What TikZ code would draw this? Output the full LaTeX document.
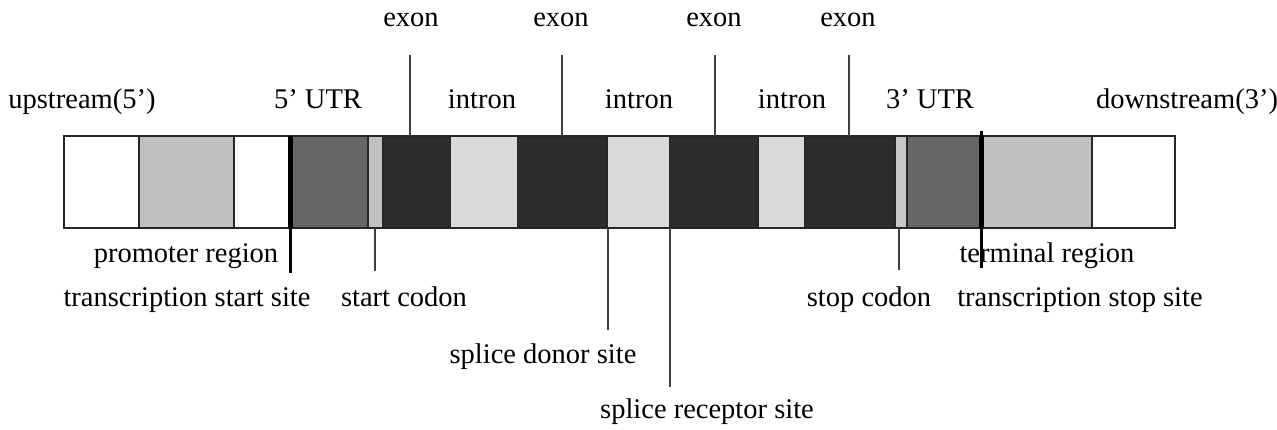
\documentclass[tikz,border=0pt]{standalone}
\usepackage{fontspec}
\setmainfont{Liberation Serif}
\definecolor{promo}{HTML}{C0C0C0}
\definecolor{utr}{HTML}{666666}
\definecolor{exonc}{HTML}{2D2D2D}
\definecolor{intronc}{HTML}{D9D9D9}
\definecolor{codon}{HTML}{C8C8C8}
\begin{document}
\begin{tikzpicture}[x=1pt,y=-1pt,
  seg/.style={draw=black!85, line width=1.6pt, inner sep=0pt, outer sep=0pt, minimum height=92pt, anchor=north west},
  lbl/.style={font=\fontsize{28.5}{30}\selectfont, inner sep=0pt, text height=0.7em, text depth=0.25em},
  conn/.style={draw=black!75, line width=2pt},
  site/.style={draw=black, line width=3pt}]
\useasboundingbox[fill=white] (0,0) rectangle (1277,429);
% segments
\node[seg, fill=white,   minimum width=75pt] (up1)  at (64,136) {};
\node[seg, fill=promo,   minimum width=95pt] (prom) at (139,136) {};
\node[seg, fill=white,   minimum width=56pt] (up2)  at (234,136) {};
\node[seg, fill=utr,     minimum width=78pt] (utr5) at (290,136) {};
\node[seg, fill=promo,   minimum width=15pt] (sc)   at (368,136) {};
\node[seg, fill=exonc,   minimum width=67pt] (ex1)  at (383,136) {};
\node[seg, fill=intronc, minimum width=68pt] (in1)  at (450,136) {};
\node[seg, fill=exonc,   minimum width=89pt] (ex2)  at (518,136) {};
\node[seg, fill=intronc, minimum width=63pt] (in2)  at (607,136) {};
\node[seg, fill=exonc,   minimum width=88pt] (ex3)  at (670,136) {};
\node[seg, fill=intronc, minimum width=47pt] (in3)  at (758,136) {};
\node[seg, fill=exonc,   minimum width=90pt] (ex4)  at (805,136) {};
\node[seg, fill=codon,   minimum width=12pt] (stc)  at (895,136) {};
\node[seg, fill=utr,     minimum width=74pt] (utr3) at (907,136) {};
\node[seg, fill=promo,   minimum width=111pt] (term) at (981,136) {};
\node[seg, fill=white,   minimum width=83pt] (down) at (1092,136) {};
% thick site markers
\node[inner sep=0pt, fill=black, minimum width=5pt, minimum height=92pt] (tssbar) at (290,182) {};
\node[inner sep=0pt, fill=black, minimum width=5pt, minimum height=92pt] (tesbar) at (981,182) {};
% labels
\node[lbl] (lex1) at (411,24) {exon};
\node[lbl] (lex2) at (561,24) {exon};
\node[lbl] (lex3) at (714,24) {exon};
\node[lbl] (lex4) at (848,24) {exon};
\node[lbl] (lup) at (82,106) {upstream(5’)};
\node[lbl] (lutr5) at (318,106) {5’ UTR};
\node[lbl] (lin1) at (482,106) {intron};
\node[lbl] (lin2) at (639,106) {intron};
\node[lbl] (lin3) at (792,106) {intron};
\node[lbl] (lutr3) at (930,106) {3’ UTR};
\node[lbl] (ldown) at (1187,106) {downstream(3’)};
\node[lbl] (lprom) at (186,260) {promoter region};
\node[lbl] (lterm) at (1047,260) {terminal region};
\node[lbl] (ltss) at (187,304) {transcription start site};
\node[lbl] (lsc) at (404,304) {start codon};
\node[lbl] (lstc) at (869,304) {stop codon};
\node[lbl] (ltes) at (1080,304) {transcription stop site};
\node[lbl] (ldon) at (543,361) {splice donor site};
\node[lbl] (lrec) at (707,416) {splice receptor site};
% connector end points
\coordinate (e1) at (410,55);
\coordinate (e2) at (562,55);
\coordinate (e3) at (715,55);
\coordinate (e4) at (849,55);
\coordinate (tssEnd) at (290,273);
\coordinate (scEnd) at (375,271);
\coordinate (donEnd) at (608,330);
\coordinate (recEnd) at (670,387);
\coordinate (stcEnd) at (899,270);
\coordinate (tesTop) at (981,131);
\coordinate (tesEnd) at (981,268);
% connectors
\draw[conn] (e1) -- (e1 |- ex1.north);
\draw[conn] (e2) -- (e2 |- ex2.north);
\draw[conn] (e3) -- (e3 |- ex3.north);
\draw[conn] (e4) -- (e4 |- ex4.north);
\draw[site] (tssbar.south) -- (tssEnd);
\draw[conn] (scEnd |- sc.south) -- (scEnd);
\draw[conn] (donEnd |- in2.south) -- (donEnd);
\draw[conn] (in2.south east) -- (recEnd);
\draw[conn] (stcEnd |- stc.south) -- (stcEnd);
\draw[site] (tesTop) -- (tesEnd);
\end{tikzpicture}
\end{document}
